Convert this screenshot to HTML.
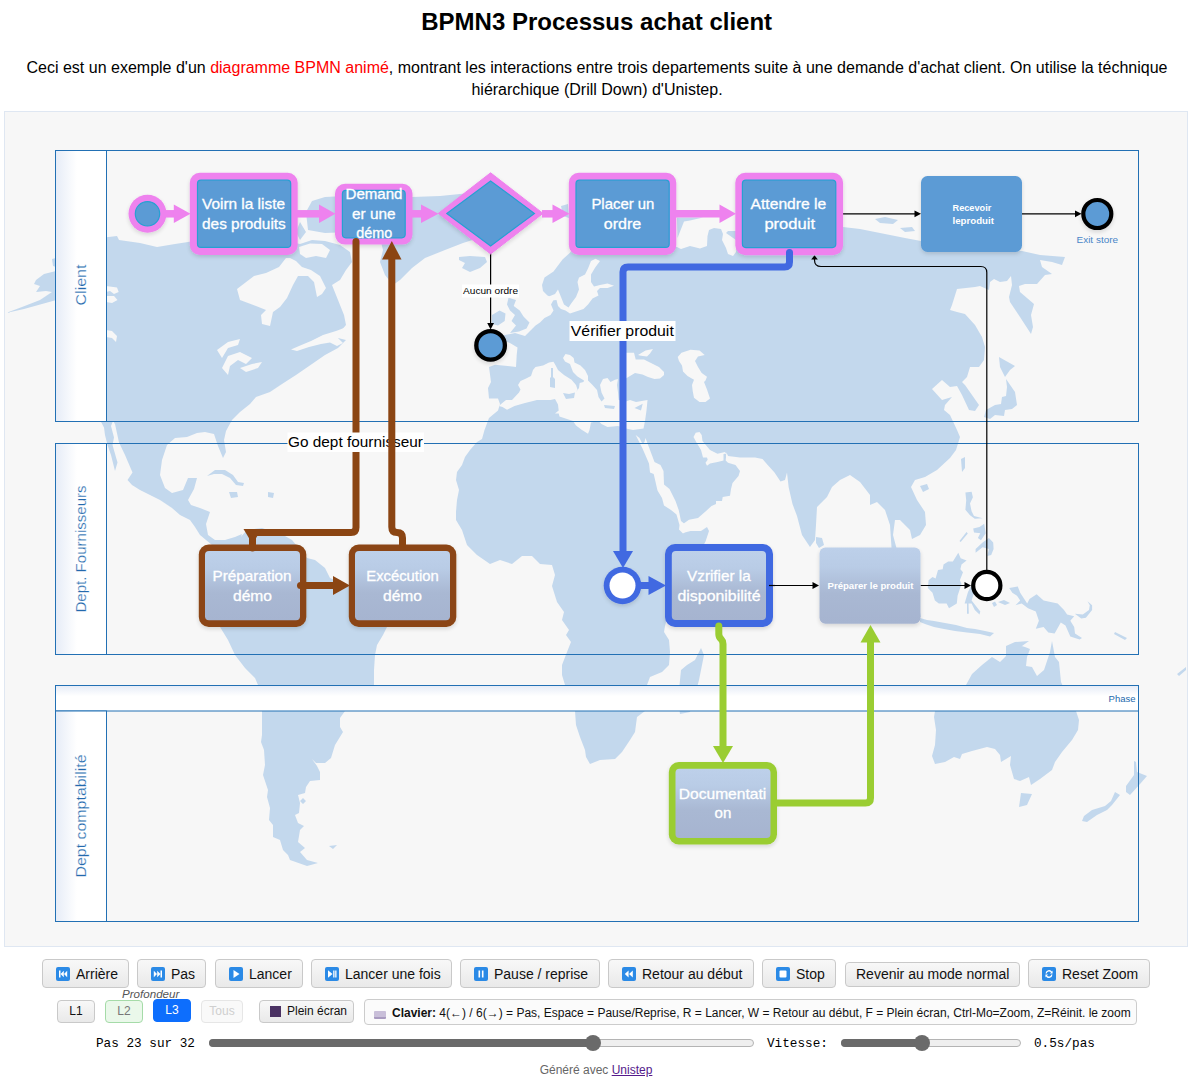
<!DOCTYPE html>
<html lang="fr">
<head>
<meta charset="utf-8">
<title>BPMN3 Processus achat client</title>
<style>
*{box-sizing:border-box;}
html,body{margin:0;padding:0;background:#fff;}
body{width:1200px;height:1086px;position:relative;overflow:hidden;font-family:"Liberation Sans",sans-serif;color:#000;}
#title{position:absolute;left:0.7px;top:8px;width:1192px;text-align:center;font-size:24px;font-weight:bold;line-height:28px;margin:0;}
#desc{position:absolute;left:9px;top:57px;width:1176px;text-align:center;font-size:16px;line-height:22px;margin:0;}
#desc span{color:#ff0000;}
#box{position:absolute;left:4px;top:111px;width:1184px;height:836px;background:#f7f7f7;border:1px solid #dfe7f2;}
#dia{position:absolute;left:0;top:0;width:1200px;height:1086px;}
.btn{position:absolute;height:29px;top:959px;border:1px solid #c9c9c9;border-radius:4px;background:linear-gradient(#f8f8f8,#e9e9e9);font-size:14px;line-height:29px;color:#111;white-space:nowrap;padding-left:33px;}
.btn i{position:absolute;left:13px;top:7px;width:14px;height:14px;border-radius:2px;background:#2b8ae6;display:block;}
.btn i svg{position:absolute;left:0;top:0;width:14px;height:14px;}
.sb{position:absolute;top:1000px;height:23px;border:1px solid #c9c9c9;border-radius:4px;background:linear-gradient(#f8f8f8,#e9e9e9);font-size:12px;line-height:20px;text-align:center;color:#111;white-space:nowrap;}
.mono{position:absolute;font-family:"Liberation Mono",monospace;font-size:12.7px;line-height:18px;white-space:nowrap;color:#000;}
.trk{position:absolute;height:8px;border-radius:4px;border:1px solid #b4b4b4;background:#efefef;top:1039px;}
.fil{position:absolute;height:8px;border-radius:4px;background:#6a6a6a;top:1039px;}
.thm{position:absolute;width:16px;height:16px;border-radius:8px;background:#6a6a6a;top:1035px;}
</style>
</head>
<body>
<h1 id="title">BPMN3 Processus achat client</h1>
<p id="desc">Ceci est un exemple d'un <span>diagramme BPMN animé</span>, montrant les interactions entre trois departements suite à une demande d'achat client. On utilise la téchnique hiérarchique (Drill Down) d'Unistep.</p>
<div id="box"></div>
<svg id="dia" viewBox="0 0 1200 1086" width="1200" height="1086">
<defs>
<clipPath id="cbox"><rect x="5" y="112" width="1182" height="834"/></clipPath>
<linearGradient id="gl" x1="0" y1="0" x2="1" y2="0"><stop offset="0" stop-color="#e6ecf7"/><stop offset="0.42" stop-color="#ffffff"/><stop offset="1" stop-color="#ffffff"/></linearGradient>
<linearGradient id="gp" x1="0" y1="0" x2="0" y2="1"><stop offset="0" stop-color="#e6ecf7"/><stop offset="0.42" stop-color="#ffffff"/><stop offset="1" stop-color="#ffffff"/></linearGradient>
<linearGradient id="gt" x1="0" y1="0" x2="0" y2="1"><stop offset="0" stop-color="#bdd0ea"/><stop offset="0.25" stop-color="#b9cce6"/><stop offset="0.6" stop-color="#a9b8d3"/><stop offset="1" stop-color="#a6b4d0"/></linearGradient>
<filter id="sh" x="-20%" y="-20%" width="140%" height="150%"><feGaussianBlur in="SourceAlpha" stdDeviation="2"/><feOffset dx="0" dy="1.5"/><feComponentTransfer><feFuncA type="linear" slope="0.14"/></feComponentTransfer><feMerge><feMergeNode/><feMergeNode in="SourceGraphic"/></feMerge></filter>
</defs>
<g id="map" clip-path="url(#cbox)" fill="#c3d8ed" stroke="none">
<!--MAP-->
<path fill="#c3d8ed" d="M60,270 L44,274 L36,280 L34,284 L40,286 L36,292 L46,291 L52,292 L40,300 L22,307 L6,313 L24,309 L42,304 L60,299Z M60,270 L100,238 L117,236 L119,240 L140,243 L157,247 L175,244 L188,242 L200,240 L240,238 L280,240 L300,244 L303,243 L312,240 L325,241 L340,245 L350,252 L352,262 L346,270 L340,280 L332,285 L338,300 L344,315 L346,325 L340,332 L330,338 L338,338 L346,340 L338,348 L325,355 L312,364 L296,375 L282,384 L270,392 L256,397 L250,404 L240,412 L232,420 L226,431 L224,440 L226,452 L223,458 L218,446 L214,434 L205,432 L197,433 L187,437 L175,438 L167,445 L162,460 L160,475 L165,488 L172,493 L183,490 L188,478 L197,478 L194,489 L188,500 L191,505 L200,508 L210,512 L206,524 L208,535 L215,540 L225,540 L235,537 L242,534 L238,545 L225,546 L212,545 L200,535 L195,527 L190,520 L180,515 L172,508 L160,500 L150,495 L140,490 L132,485 L127.5,480 L132.5,472.5 L125,455 L119,442.5 L115,424 L113,421 L111,426 L114,437.5 L112.5,445 L117.5,462.5 L115,471 L111,455 L107.5,445 L105,435 L104,427.5 L100,420 L60,420Z M52,259 L56,258 L56,267 L53,266Z M207,476 L215,470 L225,470 L233,475 L238,482 L244,483 L243,486 L236,485 L230,478 L222,474 L214,474Z M229,492 L237,492 L238,497 L231,498Z M268,492 L274,493 L273,498 L268,497Z M306,212 L312,201 L325,197 L345,196 L360,200 L372,205 L380,214 L370,225 L350,232 L325,233 L308,230Z M300,222 L306,232 L300,240 L296,232Z M392,212 L400,202 L412,197 L440,196 L470,193 L500,196 L520,205 L515,218 L500,228 L485,236 L463,243 L445,250 L425,258 L412,268 L400,280 L393,285 L385,275 L380,262 L383,250 L380,238 L385,225Z M459,257 L470,256 L485,257 L487,262 L480,268 L470,272 L462,268 L465,263 L459,260Z M238,540 L247,530 L262,528 L285,536 L292,540 L307,558 L315,560 L325,568 L330,578 L345,585 L380,595 L400,605 L398,618 L387,627 L383,635 L377,645 L375,655 L374,670 L374,690 L360,700 L345,711 L340,718 L340,727 L343,732 L335,745 L331,758 L325,763 L316,763 L312,759 L317,766 L320,772 L320,780 L310,781 L306,787 L305,793 L298,795 L300,803 L299,813 L295,815 L298,823 L304,826 L300,830 L298,842 L305,848 L300,852 L307,860 L318,863 L307,866 L290,860 L288,855 L283,850 L280,840 L273,837 L273,825 L269,820 L270,808 L267,797 L268,790 L263,775 L265,765 L264,750 L261,742 L262,735 L262,711 L258,685 L255,678 L245,668 L235,655 L228,640 L220,627 L212,610 L210,590 L218,570 L228,555Z M300,801 L303,798 L306,801 L303,804Z M329,846 L337,845 L333,849Z M508.5,297.7 L516,300 L513.7,306 L519.7,310.5 L523.5,316.5 L529.5,322.5 L526.5,328.5 L519,331.5 L510,333 L516,325.5 L511.5,321 L515,315 L510,310.5 L507,304.5Z M492,315 L499.5,310.5 L505.5,313.5 L504.7,321 L498,325.5 L492,324Z M489,367 L495,364.7 L516,367 L516.7,355 L517.5,347.5 L510,343 L497,338 L505,335 L515,333 L525,336 L531,330 L535.5,325.5 L540,322.5 L544.5,318 L550.5,315 L553.5,310.5 L551,304.5 L553.5,300 L556,299.5 L547.5,295.5 L543,291 L542,285 L544.5,277.5 L553.5,271.5 L558,265.5 L562.5,259.5 L570,252.7 L580,240 L596,230 L620,224 L640,222 L660,224 L676,246.5 L681,249 L690,246 L700,248.5 L707,246 L707.5,236 L709,230 L714,228 L721,229 L723,234 L722,240 L726,248 L728,254 L733,256 L736,252 L736,240 L726,233 L728,231 L736,231 L760,226 L790,224 L820,225 L843,227 L860,229 L875,232 L890,235 L905,238 L921,241 L940,244 L970,247 L1000,249 L1022,251 L1040,255 L1065,257 L1062,265 L1052,262 L1040,260 L1042,267 L1052,274 L1045,275 L1037,284 L1025,284 L1019,286 L1020,292 L1034,304 L1031,315 L1033,327 L1031,334 L1020,317 L1010,302 L1009,297 L1012,285 L1011,276 L1007,281 L1000,282 L994,279 L990,282 L989,290 L980,286 L975,287 L957,289 L952,305 L950,310 L957,312 L965,314 L975,325 L982,337 L985,347 L984,360 L979,367 L970,367 L967,377 L962,382 L965,385 L979,405 L975,411 L969,410 L962,395 L957,386 L950,387 L942,380 L932,389 L942,400 L952,397 L945,405 L944,410 L950,415 L957,430 L960,437 L956,450 L950,458 L937,470 L925,477 L915,480 L911,487 L917,500 L925,512 L926,525 L920,535 L912,539 L910,530 L900,520 L895,520 L893,535 L897,550 L905,565 L900,570 L892,555 L890,525 L885,510 L877,502 L870,505 L870,495 L860,482 L850,475 L840,480 L832,487 L827,497 L817,507 L816,525 L815,540 L810,547 L802,535 L797,516 L792.5,504 L788.7,487.5 L787,472.5 L785,480 L780.5,481.5 L774.5,472.5 L767.7,465 L762.5,459 L755,457.5 L740,457.5 L728,456 L726.5,452.5 L725.7,460.5 L728,462.7 L735.5,465 L740,471 L738.5,476 L732.5,483 L731,489 L730,495.7 L722.7,497 L722,501 L716,501 L716,504 L711.5,506 L705.5,511.5 L698,518 L689,519.7 L683,524 L681,528 L683,533 L690.5,531 L701,531 L707,527 L709,531 L705.5,541.5 L700,552 L690,570 L672,600 L665,626 L664,632 L669,640 L670,652 L669,665 L662,672 L650,677 L647,685 L645,711 L637,717 L635,732 L630,740 L622,752 L615,759 L600,760 L590,764 L586,757 L585,750 L580,737 L576,725 L575,711 L565,685 L562,675 L562,665 L567,652 L571,642 L566,635 L569,630 L562,620 L564,612 L557,602 L552,586 L555,575 L552,565 L540,564 L532,556 L522,556 L512,564 L500,560 L490,564 L477,555 L467,545 L462,530 L456,520 L456,512 L457,500 L459,490 L456,480 L457,472 L462,465 L465,457 L470,450 L477,442 L482,439 L484.5,430 L489,418 L498,410.5 L500,404 L498,398.5 L489,398.5 L488,388 L491,382Z M677,217.5 L703,217.5 L690,220.5 L684,221.5 L677.5,238 L677,219Z M561,206 L568,204 L569,218 L563,216Z M875,219 L885,217 L898,220 L893,224 L880,223Z M900,228 L912,227 L915,231 L905,232Z M701,648 L704,655 L702,665 L699,680 L695,695 L690,712 L680,714 L678,700 L681,670 L687,665 L695,660 L700,650Z M816,537 L822,538 L824,545 L819,548 L816,543Z M920,486 L927,484 L929,489 L923,492Z M961,459 L965,457 L965,468 L962,472Z M999,357 L1015,366 L1010,370 L1005,377 L1000,367Z M1006,379 L1015,392 L1017,405 L1012,409 L1005,410 L1004,416 L995,415 L990,419 L984,417 L986,410 L995,405 L1001,404 L1002,397 L1006,396 L1007,387Z M965.4,492.5 L971.6,491.7 L972.9,497.2 L970,503.5 L971.6,511.3 L974,516 L982.6,518.3 L974.8,518.8 L970,515.2 L965.4,509.7 L966.2,500.3Z M973.2,528.5 L979.5,527 L984.2,523.8 L985.7,533.2 L981,540.3 L977.9,537.9 L980.3,533.2 L974,532.4Z M958.3,552.8 L960.7,558.2 L966.6,560.6 L961.5,564.5 L960.4,569.2 L963,572.3 L959.9,580.2 L961.5,584.1 L957.6,595.8 L956.8,603.6 L949,608.3 L946.6,603.6 L938.8,603.6 L934.9,600.5 L932.5,592.7 L927.8,588 L928.6,580.2 L932.5,577 L935.6,578.6 L938,570 L942.7,569.2 L943.5,564.5 L948.2,561.4 L952.9,561.4Z M964.6,603.6 L968,592 L972,584 L980,582 L983,586 L975,590 L971.6,600.5 L980.3,611.5 L979.5,614.6 L974.8,609.9 L971.6,603.6 L968.5,603.6 L968.8,613.8 L967,613.8 L967,603.6Z M884,548 L892,548 L905,565 L914,585 L918,602 L921,617 L917,616 L908,600 L898,583 L888,565Z M920,618 L927,620 L934,621 L945,623 L956,625 L967,628 L975,629 L985,631 L994,633 L990,636.5 L980,634 L967,632.6 L955,631 L944,629 L934,627 L925,624 L920,622Z M1009.2,588 L1017.8,586.4 L1020.2,592.7 L1023.3,597.4 L1027.2,603.6 L1029.5,598.9 L1036.6,594.2 L1043.6,600.5 L1057.7,603.6 L1064,609.9 L1067.1,614.6 L1074.2,616.2 L1070.3,620.8 L1074.2,627.1 L1075,633.4 L1082,638 L1079.6,639.6 L1070.3,636.5 L1065.5,625.5 L1060.8,622.4 L1054.6,633.4 L1048.3,632.6 L1043.6,627.1 L1035.8,628.7 L1038.9,620.8 L1035.8,611.5 L1028,608.3 L1021.7,603.6 L1015.5,605.2 L1020.2,600.5 L1017,595.8 L1012.3,592.7Z M1087.5,601.3 L1092.1,605.2 L1092.1,609.9 L1085.9,617.7 L1081.2,618.5 L1074.9,613.8 L1082.8,614.6 L1089,609.9 L1089.8,605.2Z M1115,632 L1127,638 L1125,640 L1114,634Z M1177,674 L1186,667 L1186,670 L1179,676Z M975.6,548.9 L982.6,542.6 L988.9,537.9 L993.2,542.6 L993.6,548.9 L991.2,555.1 L987.3,555.9 L988.9,548.9 L982.6,547.3 L975.6,552.8Z M966.5,532 L967.8,533.5 L960.7,542 L959.5,541Z M992,603 L995,601.5 L997,605 L994,607Z M998,602 L1004,600 L1010,603 L1005,605Z M1006,646 L1015,642 L1029,641 L1022,646 L1012,650Z M966,685 L972,674 L982,665 L992,657 L1000,662 L1006,656 L1006,646 L1015,644 L1025,647 L1030,649 L1027,657 L1026,666 L1032,667 L1037,676 L1044,670 L1050,652 L1052,641 L1055,657 L1059,662 L1061,682 L1068,698 L1076,711 L1079,720 L1078,730 L1072,740 L1062,752 L1055,762 L1052,770 L1040,779 L1031,785 L1029,777 L1020,781 L1014,779 L1012,772 L1010,765 L1011,756 L1001,762 L1000,755 L995,749 L987,747 L972,751 L962,754 L960,759 L954,757 L945,762 L935,764 L932,756 L935,745 L936,730 L934,717 L935,711 L945,700Z M1021,793 L1032,794 L1027,805 L1019,807Z M1134,761 L1136,762 L1137,772 L1147,776 L1140,784 L1130,795 L1126,792 L1126,786 L1134,775Z M1115,792 L1120,795 L1112,805 L1107,810 L1097,815 L1087,822 L1082,821 L1084,816 L1092,810 L1105,806 L1111,801Z"/>
<path fill="#f7f7f7" d="M286,258 L279,267 L266,273 L254,276 L237,289 L240,300 L256,306 L266,310 L261,315 L262,324 L270,326 L273,312 L280,307 L287,298 L293,285 L298,276 L308,276 L314,282 L317,297 L322,294 L326,288 L320,276 L311,270 L302,267 L296,261 L290,258Z M299,247 L310,243.5 L322,244 L330,250 L326,258 L316,256 L306,258 L300,254Z M106,286 L117,287.5 L118.7,292 L114,294 L110,291 L106,292Z M106,296 L114,296 L117.5,300 L112,303 L106,302Z M106,330 L112,331 L117,336 L116,342 L112,338 L106,337Z M344,328 L336,331 L323,335 L311,341 L299,346 L291,349.5 L297,351 L309,347 L321,344 L330,342.5 L337,346 L343,343 L338,338 L344,335Z M217,350 L228,342 L240,339 L238,345 L228,348 L222,358Z M222,368 L228,356 L240,352 L252,358 L246,364 L238,360 L230,366 L228,375Z M240,368 L252,364 L262,362 L258,368 L246,372Z M500.5,404.5 L506,400 L512,400 L519,392.5 L520.5,389.5 L518,385 L520.5,381 L525,379 L531,376 L533,370 L535.5,367 L543,365.5 L549,362.5 L553.5,361.7 L555.7,365.5 L558,370 L564,375 L571.5,379.7 L576,385 L577.5,389.5 L576,392 L579,388 L579.7,383 L583.5,382 L584,380.5 L577.5,376.5 L573,372 L571.5,368 L570,364 L565,361.5 L563,358 L565.5,354 L570,355 L573.7,358 L574.5,362.5 L580.5,365.5 L585,370 L588,376 L588,380.5 L592.5,385 L597,390 L598.5,397 L601.5,401.5 L604.5,398.5 L601.5,392.5 L600,385 L603,379 L607.5,378 L610.5,382 L615,379.7 L618,379 L617,385 L618,392.5 L618.7,400 L626,401.5 L630,400 L636,402 L647.5,400 L646.5,410.5 L645,421 L643.5,428.5 L633,430 L626,428.5 L618,426 L607.5,427 L601.5,424 L598.5,421 L591,422.5 L589.5,430 L588,433.7 L582,430 L576,425.5 L573,421 L564,418 L559.5,416.5 L558.7,413.5 L555,413.5 L558.7,410.5 L558,404.5 L555,399 L550.5,400 L537,400 L525,403 L514.5,406 L507,409.7 L502.5,407 L499,406Z M625,352.7 L634,352.7 L635.7,359.5 L644,359.5 L650,362.5 L659,367 L664,372 L664,375 L660,378.5 L654.5,379 L648,377 L642.5,374.5 L635,373 L630,376 L625,379Z M638,355 L645.5,350.5 L653,349 L650,353.5 L647,356.5 L641,355.7Z M677.7,357 L681.5,352.7 L690.5,349.7 L699.5,350.5 L704.7,355 L698,356.5 L695,361 L698,367 L701.7,373 L707,376.7 L705.5,380.5 L704,382 L707,389.5 L710,398.5 L705.5,402 L699.5,402 L694,397.7 L692.7,391 L692,385 L694,379.7 L687.5,376 L683,371.5 L682,365.5 L679,361Z M635.7,435 L642.5,448.5 L649,463.5 L650,472.5 L653.7,474 L657.5,490.5 L662,498 L664,505.5 L671,510 L676.5,514.5 L679.5,525 L679,529.5 L683,533.5 L689,529 L684,523.5 L681,521 L678.7,510 L675.5,501 L669.5,489 L664,484.5 L663.5,471 L660.5,465 L654.5,462 L650,450 L645.5,438 L644.5,442 L642.5,444 L639.5,438Z M729.5,459 L725,452 L717.5,453.7 L710,450 L702.5,441 L701.7,435 L699.5,432 L695.7,432.7 L693.5,437 L696.5,442.5 L701,450 L703,457.5 L707,457.5 L707.7,459.7 L705.5,462.7 L707,465.7 L710,463.5 L717.5,462 L723.5,460.5 L723.5,454 L726,453.5 L726,460Z M558,289.5 L561,297 L564,304.5 L568.5,307.5 L571.5,303 L576,297 L579,289.5 L577.5,282 L579,277.5 L585,274.5 L588,268.5 L591,261 L595.5,258.7 L600,261 L595.5,267 L591,274.5 L591,282 L594,286.5 L600,285 L607.5,283.5 L614,285.7 L607.5,288 L600,288 L597,291 L598.5,295.5 L592.5,298.5 L588,304.5 L583.5,309 L577.5,311 L570,313.5 L565.5,310.5 L561,309 L558,306 L556.5,300 L551,300.5 L546,298 L550,296 L555,294Z"/>
<path fill="#c3d8ed" d="M551,368 L553,368 L553,377 L555,379 L555,388 L550,387 L550,378 L551,377Z M563,393 L569,394 L575,392.5 L574,398 L566,399Z M634.5,408 L642.7,403.7 L641,410.5Z M604,405 L615,406 L614,409 L605,408Z"/>
<!--/MAP-->
</g>
<g id="lanes" fill="none" stroke="#2270b4" stroke-width="1">
<rect x="55.5" y="150.5" width="51" height="271" fill="url(#gl)"/>
<rect x="55.5" y="150.5" width="1083" height="271"/>
<rect x="55.5" y="443.5" width="51" height="211" fill="url(#gl)"/>
<rect x="55.5" y="443.5" width="1083" height="211"/>
<rect x="55.5" y="685.5" width="1083" height="25.5" fill="url(#gp)"/>
<rect x="55.5" y="711" width="51" height="210.5" fill="url(#gl)"/>
<rect x="55.5" y="685.5" width="1083" height="236"/>
</g>
<g id="lanetx" font-family="Liberation Sans, sans-serif" font-size="15" fill="#2369ad" stroke="#fff" stroke-width="0.25" text-anchor="middle">
<text transform="translate(86,285) rotate(-90)" textLength="41" lengthAdjust="spacingAndGlyphs">Client</text>
<text transform="translate(86,549) rotate(-90)" textLength="127" lengthAdjust="spacingAndGlyphs">Dept. Fournisseurs</text>
<text transform="translate(86,816) rotate(-90)" textLength="123" lengthAdjust="spacingAndGlyphs">Dept comptabilité</text>
<text x="1135.5" y="702" font-size="9.5" text-anchor="end" stroke="none">Phase</text>
</g>
<!--SHAPES_START-->
<g id="conn-thin" fill="none" stroke="#000" stroke-width="1.2">
<path d="M490.6,253 V324"/>
<path d="M843,213.8 H916"/>
<path d="M1022,213.8 H1077"/>
<path d="M770,585.5 H813"/>
<path d="M920.5,585.5 H966"/>
<path d="M986.8,570 V272.5 Q986.8,266.5 980.8,266.5 H821 Q814.5,266.5 814.5,260 V258"/>
</g>
<g id="heads-thin" fill="#000" stroke="none">
<path d="M487.2,323 L494,323 L490.6,329.5 Z"/>
<path d="M914.5,210.4 L921,213.8 L914.5,217.2 Z"/>
<path d="M1075,210.4 L1081.5,213.8 L1075,217.2 Z"/>
<path d="M812.5,582.1 L819,585.5 L812.5,588.9 Z"/>
<path d="M964.5,582.1 L971,585.5 L964.5,588.9 Z"/>
<path d="M811.2,259.5 L817.8,259.5 L814.5,255.3 Z"/>
</g>
<rect x="462" y="284.5" width="57" height="13" fill="#fff"/>
<text x="490.6" y="293.6" font-family="Liberation Sans, sans-serif" font-size="9.5" text-anchor="middle" fill="#000" textLength="55" lengthAdjust="spacingAndGlyphs">Aucun ordre</text>

<!-- highlighted shapes -->
<g filter="url(#sh)">
<circle cx="147.5" cy="213.8" r="19" fill="#ee82ee"/>
<rect x="189.8" y="172.8" width="107.9" height="82.2" rx="10" fill="#ee82ee"/>
<rect x="335" y="183.8" width="77.5" height="60.8" rx="10" fill="#ee82ee"/>
<path d="M438.3,213.4 L490.6,172.8 L543,213.4 L490.6,254 Z" fill="#ee82ee" stroke="#ee82ee" stroke-width="1" stroke-linejoin="round"/>
<rect x="568.8" y="172.8" width="107.5" height="82.2" rx="10" fill="#ee82ee"/>
<rect x="735.3" y="172.8" width="107.8" height="82.4" rx="10" fill="#ee82ee"/>
<rect x="198.8" y="544.5" width="107.5" height="82.5" rx="10" fill="#8b4513"/>
<rect x="348.8" y="544.5" width="107.5" height="82.5" rx="10" fill="#8b4513"/>
<rect x="665" y="544" width="108" height="83" rx="10" fill="#4169e1"/>
<rect x="668.8" y="762" width="108.2" height="82.5" rx="10" fill="#9acd32"/>
<circle cx="622.5" cy="585.5" r="18.8" fill="#4169e1"/>
<rect x="819.5" y="547.5" width="101" height="76.3" rx="6" fill="url(#gt)"/>
<rect x="921" y="176" width="101" height="76" rx="6.5" fill="#5b9bd5"/>
<circle cx="1097.3" cy="214" r="14" fill="#5b9bd5" stroke="#000" stroke-width="4.2"/>
<circle cx="490.6" cy="345.4" r="14.3" fill="#5b9bd5" stroke="#000" stroke-width="4.3"/>
</g>
<g fill="#5b9bd5" stroke="#27a0d2" stroke-width="1.2">
<circle cx="147.5" cy="213.8" r="12.2"/>
<rect x="197.5" y="180.2" width="93.2" height="67.2" rx="3.5"/>
<rect x="342.4" y="190.4" width="62.8" height="47.4" rx="3.5"/>
<path d="M446.8,213.4 L490.6,181 L534.4,213.4 L490.6,246 Z"/>
<rect x="576" y="180.2" width="93.2" height="67.2" rx="3.5"/>
<rect x="742.4" y="180.2" width="93.4" height="67.4" rx="3.5"/>
</g>
<g fill="url(#gt)">
<rect x="205" y="551" width="95" height="69.3" rx="4"/>
<rect x="355" y="551" width="95" height="69.3" rx="4"/>
<rect x="671.8" y="551" width="94.2" height="69" rx="4"/>
<rect x="675.5" y="768.8" width="95" height="69.2" rx="4"/>
</g>
<circle cx="622.5" cy="585.5" r="13" fill="#fff"/>
<circle cx="986.8" cy="585.5" r="13.6" fill="#fff" stroke="#000" stroke-width="4.2"/>

<path d="M769,585.5 H775" stroke="#000" stroke-width="1.2" fill="none"/>
<!-- brown down line (under label) -->
<g fill="none" stroke="#8b4513" stroke-width="7" stroke-linejoin="round" stroke-linecap="round">
<path d="M356,241.5 V527.5 Q356,532.5 351,532.5 H254 Q252.5,532.5 252.5,534 V548"/>
</g>
<path d="M243.5,529 L261.5,529 L252.5,544 Z" fill="#8b4513"/>
<rect x="287.5" y="432.5" width="136.5" height="19.5" fill="#fff"/>
<text x="355.5" y="447" font-family="Liberation Sans, sans-serif" font-size="14.5" text-anchor="middle" fill="#000" textLength="135" lengthAdjust="spacingAndGlyphs">Go dept fournisseur</text>
<g fill="none" stroke="#8b4513" stroke-width="7" stroke-linejoin="round">
<path d="M402.5,548 V538 Q402.5,532.5 397,532.5 Q391.8,532.5 391.8,527 V256"/>
<path d="M300.5,585.5 H336" stroke-linecap="round"/>
</g>
<path d="M382,259.5 L401.5,259.5 L391.8,241 Z" fill="#8b4513"/>
<path d="M333,576 L350,585.5 L333,595 Z" fill="#8b4513"/>

<!-- blue line -->
<g fill="none" stroke="#4169e1" stroke-width="7" stroke-linejoin="round">
<path d="M789.5,252.5 V262 Q789.5,267 784.5,267 H628 Q623,267 623,272 V553" stroke-linecap="round"/>
<path d="M641,585.5 H652"/>
</g>
<path d="M613,551 L633,551 L623,568 Z" fill="#4169e1"/>
<path d="M648.5,576 L666,585.5 L648.5,595 Z" fill="#4169e1"/>
<rect x="569.5" y="321" width="106" height="20" fill="#fff"/>
<text x="622.3" y="336.3" font-family="Liberation Sans, sans-serif" font-size="14.5" text-anchor="middle" fill="#000" textLength="103" lengthAdjust="spacingAndGlyphs">Vérifier produit</text>

<!-- green lines -->
<g fill="none" stroke="#9acd32" stroke-width="7" stroke-linejoin="round">
<path d="M718.8,626 V634 Q718.8,637 721,639 Q723,641 723,644 V750" stroke-linecap="round"/>
<path d="M777,803 H865.5 Q870.5,803 870.5,798 V640"/>
</g>
<path d="M713,746 L733,746 L723,763 Z" fill="#9acd32"/>
<path d="M860.5,642.5 L880.5,642.5 L870.5,625 Z" fill="#9acd32"/>

<!-- pink connectors -->
<g fill="none" stroke="#ee82ee" stroke-width="7.5">
<path d="M165,213.8 H178"/>
<path d="M297,213.8 H323"/>
<path d="M412,213.8 H425"/>
<path d="M542,213.8 H556"/>
<path d="M676,213.8 H723"/>
</g>
<g fill="#ee82ee">
<path d="M173.8,204.5 L190.5,213.8 L173.8,223 Z"/>
<path d="M319,204.5 L335.5,213.8 L319,223 Z"/>
<path d="M421,204.5 L438.5,213.8 L421,223 Z"/>
<path d="M552.5,204.5 L569.5,213.8 L552.5,223 Z"/>
<path d="M719.5,204.5 L736,213.8 L719.5,223 Z"/>
</g>

<!-- task texts -->
<g font-family="Liberation Sans, sans-serif" font-size="14.5" fill="#fff" stroke="#fff" stroke-width="0.3" text-anchor="middle">
<text x="243.5" y="208.8" textLength="83" lengthAdjust="spacingAndGlyphs">Voirn la liste</text>
<text x="243.9" y="228.6" textLength="83.7" lengthAdjust="spacingAndGlyphs">des produits</text>
<text x="374" y="198.8" textLength="57" lengthAdjust="spacingAndGlyphs">Demand</text>
<text x="373.8" y="218.7" textLength="43.5" lengthAdjust="spacingAndGlyphs">er une</text>
<text x="374.3" y="238.3" textLength="36" lengthAdjust="spacingAndGlyphs">démo</text>
<text x="622.9" y="208.8" textLength="63" lengthAdjust="spacingAndGlyphs">Placer un</text>
<text x="622.5" y="228.6" textLength="37.5" lengthAdjust="spacingAndGlyphs">ordre</text>
<text x="788.4" y="208.8" textLength="75.6" lengthAdjust="spacingAndGlyphs">Attendre le</text>
<text x="789.7" y="228.6" textLength="50.6" lengthAdjust="spacingAndGlyphs">produit</text>
<text x="252.1" y="580.6" textLength="79" lengthAdjust="spacingAndGlyphs">Préparation</text>
<text x="252.5" y="600.5" textLength="39" lengthAdjust="spacingAndGlyphs">démo</text>
<text x="402.5" y="580.6" textLength="72.5" lengthAdjust="spacingAndGlyphs">Excécution</text>
<text x="402.5" y="600.5" textLength="39" lengthAdjust="spacingAndGlyphs">démo</text>
<text x="718.9" y="580.7" textLength="63.7" lengthAdjust="spacingAndGlyphs">Vzrifier la</text>
<text x="719" y="600.5" textLength="83" lengthAdjust="spacingAndGlyphs">disponibilité</text>
<text x="722.5" y="798.8" textLength="87.5" lengthAdjust="spacingAndGlyphs">Documentati</text>
<text x="722.9" y="818.3" textLength="16.8" lengthAdjust="spacingAndGlyphs">on</text>
</g>
<g font-family="Liberation Sans, sans-serif" font-size="9.3" font-weight="bold" fill="#fff" text-anchor="middle">
<text x="971.9" y="210.8" textLength="38.7" lengthAdjust="spacingAndGlyphs">Recevoir</text>
<text x="973.2" y="224" textLength="41.4" lengthAdjust="spacingAndGlyphs">leproduit</text>
<text x="870.5" y="589" textLength="86" lengthAdjust="spacingAndGlyphs">Préparer le produit</text>
</g>
<text x="1097.3" y="243.3" font-family="Liberation Sans, sans-serif" font-size="9.5" fill="#4a86c8" text-anchor="middle" textLength="41.5" lengthAdjust="spacingAndGlyphs">Exit store</text>

<!--SHAPES_END-->
</svg>
<!--CONTROLS_START-->
<div class="btn" style="left:42px;width:87px"><i><svg viewBox="0 0 14 14"><path d="M3,3.5h1.5v7H3zM8,7L11.2,3.8v6.4zM4.6,7L7.8,3.8v6.4z" fill="#fff"/></svg></i>Arrière</div>
<div class="btn" style="left:137px;width:69px"><i><svg viewBox="0 0 14 14"><path d="M9.5,3.5H11v7H9.5zM6,7L2.8,3.8v6.4zM9.4,7L6.2,3.8v6.4z" fill="#fff"/></svg></i>Pas</div>
<div class="btn" style="left:215px;width:88px"><i><svg viewBox="0 0 14 14"><path d="M4.5,3L10.5,7L4.5,11z" fill="#fff"/></svg></i>Lancer</div>
<div class="btn" style="left:311px;width:141px"><i><svg viewBox="0 0 14 14"><path d="M3,3.3L7.5,7L3,10.7zM8.2,3.5h1.3v7H8.2zM10.2,3.5h1.3v7h-1.3z" fill="#fff"/></svg></i>Lancer une fois</div>
<div class="btn" style="left:460px;width:140px"><i><svg viewBox="0 0 14 14"><path d="M4.5,3.5h1.6v7H4.5zM7.9,3.5h1.6v7H7.9z" fill="#fff"/></svg></i>Pause / reprise</div>
<div class="btn" style="left:608px;width:146px"><i><svg viewBox="0 0 14 14"><path d="M7,7L10.8,3.6v6.8zM2.8,7L6.6,3.6v6.8z" fill="#fff"/></svg></i>Retour au début</div>
<div class="btn" style="left:762px;width:74px"><i><svg viewBox="0 0 14 14"><rect x="3.5" y="3.5" width="7" height="7" rx="1" fill="#fff"/></svg></i>Stop</div>
<div class="btn" style="left:845px;width:175px;top:962px;height:25px;line-height:23px;padding-left:10px;">Revenir au mode normal</div>
<div class="btn" style="left:1028px;width:122px"><i><svg viewBox="0 0 14 14"><path d="M3.5,6.5A3.6,3.6 0 0 1 10,4.6L10.6,3.6V6.4H7.8L9,5.4A2.4,2.4 0 0 0 4.7,6.5zM10.5,7.5A3.6,3.6 0 0 1 4,9.4L3.4,10.4V7.6H6.2L5,8.6A2.4,2.4 0 0 0 9.3,7.5z" fill="#fff"/></svg></i>Reset Zoom</div>

<div style="position:absolute;left:122px;top:987px;font-size:11.6px;font-style:italic;color:#555;line-height:14px;white-space:nowrap;">Profondeur</div>
<div class="sb" style="left:57px;width:38px;">L1</div>
<div class="sb" style="left:105px;width:38px;border-color:#a5dba8;background:#eaf8ea;color:#777;">L2</div>
<div class="sb" style="left:153px;width:38px;top:999px;border-color:#0d6efd;background:#0d6efd;color:#fff;">L3</div>
<div class="sb" style="left:201px;width:42px;border-color:#e6e6e6;background:#f9f9f9;color:#cfcfcf;">Tous</div>
<div class="sb" style="left:259px;width:95px;text-align:left;padding-left:27px;"><span style="position:absolute;left:10px;top:5px;width:11px;height:11px;background:#4b3263;display:block;"></span>Plein écran</div>
<div style="position:absolute;left:364px;top:999px;width:773px;height:26px;border:1px solid #ccc;border-radius:4px;background:#fbfbfb;font-size:12px;line-height:26px;padding-left:27px;white-space:nowrap;color:#111;"><span style="position:absolute;left:9px;top:11px;width:12px;height:8px;background:#c9bfd9;border-radius:1px;display:block;border-bottom:2px solid #a99bc0;"></span><b>Clavier:</b> 4(&larr;) / 6(&rarr;) = Pas, Espace = Pause/Reprise, R = Lancer, W = Retour au début, F = Plein écran, Ctrl-Mo=Zoom, Z=Réinit. le zoom</div>

<div class="mono" style="left:96px;top:1035px;">Pas 23 sur 32</div>
<div class="trk" style="left:209px;width:545px;"></div>
<div class="fil" style="left:209px;width:384px;"></div>
<div class="thm" style="left:585px;"></div>
<div class="mono" style="left:767px;top:1035px;">Vitesse:</div>
<div class="trk" style="left:841px;width:180px;"></div>
<div class="fil" style="left:841px;width:82px;"></div>
<div class="thm" style="left:914px;"></div>
<div class="mono" style="left:1034px;top:1035px;">0.5s/pas</div>
<div style="position:absolute;left:0;top:1063px;width:1192px;text-align:center;font-size:12px;line-height:14px;color:#666;">Généré avec <span style="color:#551a8b;text-decoration:underline;">Unistep</span></div>

<!--CONTROLS_END-->
</body>
</html>
